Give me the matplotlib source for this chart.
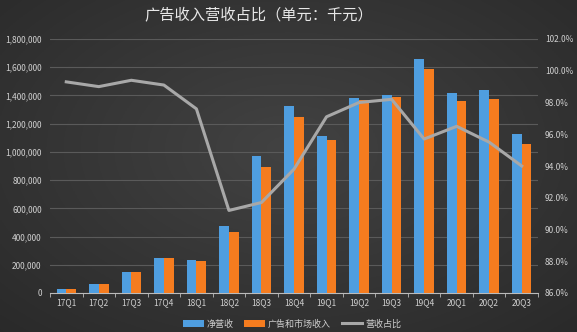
import numpy as np
import matplotlib
matplotlib.use("Agg")
import matplotlib.pyplot as plt
from matplotlib.ticker import FuncFormatter

plt.rcParams['font.family'] = ['Noto Sans CJK SC', 'DejaVu Sans']

# 数据（千元）
quarters = ['17Q1', '17Q2', '17Q3', '17Q4', '18Q1', '18Q2', '18Q3', '18Q4',
            '19Q1', '19Q2', '19Q3', '19Q4', '20Q1', '20Q2', '20Q3']
net_revenue = [28000, 64000, 150000, 250000, 235000, 475000, 972000, 1326000,
               1113000, 1385000, 1404000, 1660000, 1416000, 1440000, 1128000]
ad_revenue = [28000, 64000, 150000, 245000, 228000, 432000, 896000, 1246000,
              1085000, 1370000, 1388000, 1589000, 1364000, 1378000, 1057000]
ratio = [99.3, 99.0, 99.4, 99.1, 97.6, 91.2, 91.7, 93.8,
         97.1, 98.0, 98.2, 95.7, 96.5, 95.5, 94.0]

W, H = 577, 332
fig = plt.figure(figsize=(W / 100, H / 100), dpi=100)

# 背景渐变
bg = fig.add_axes([0, 0, 1, 1], zorder=-10)
yy, xx = np.mgrid[0:1:200j, 0:1:300j]
r = np.sqrt(((xx - 0.5) / 0.75) ** 2 + ((yy - 0.45) / 0.8) ** 2)
shade = 0.26 - 0.1 * r
bg.imshow(np.dstack([shade, shade, shade]).clip(0, 1), aspect='auto', extent=[0, 1, 0, 1])
bg.axis('off')

ax = fig.add_axes([50 / W, 1 - 293 / H, 488 / W, 254 / H])
ax.set_facecolor('none')
x = np.arange(len(quarters))
bw = 0.3
ax.bar(x - bw / 2, net_revenue, bw, color='#4f9ee0', label='净营收', zorder=3)
ax.bar(x + bw / 2, ad_revenue, bw, color='#f57c1f', label='广告和市场收入', zorder=3)
ax.set_xlim(-0.5, len(quarters) - 0.5)
ax.set_ylim(0, 1800000)
ax.set_yticks(np.arange(0, 1800001, 200000))
ax.yaxis.set_major_formatter(FuncFormatter(lambda v, p: f'{int(v):,}'))
ax.grid(axis='y', color='#5a5a5a', linewidth=0.8, zorder=0)
ax.set_xticks(x)
ax.set_xticklabels(quarters)
ax.set_xticks(np.arange(-0.5, len(quarters)), minor=True)
ax.tick_params(axis='x', which='major', length=0, colors='#d0d0d0', labelsize=6, pad=4)
ax.tick_params(axis='x', which='minor', length=3, color='#bbbbbb')
ax.tick_params(axis='y', length=0, colors='#d0d0d0', labelsize=6, pad=6)
for s in ['top', 'right', 'left']:
    ax.spines[s].set_visible(False)
ax.spines['bottom'].set_color('#bbbbbb')

ax2 = ax.twinx()
ax2.plot(x, ratio, color='#a8a8a8', linewidth=2.2, label='营收占比', zorder=4)
ax2.set_ylim(86, 102)
ax2.set_yticks(np.arange(86, 102.1, 2))
ax2.yaxis.set_major_formatter(FuncFormatter(lambda v, p: f'{v:.1f}%'))
ax2.tick_params(axis='y', length=0, colors='#d0d0d0', labelsize=6, pad=5)
for s in ['top', 'right', 'left', 'bottom']:
    ax2.spines[s].set_visible(False)

fig.text(259 / W, 1 - 16 / H, '广告收入营收占比（单元：千元）', ha='center', va='center',
         color='#e8e8e8', fontsize=11)

h1, l1 = ax.get_legend_handles_labels()
h2, l2 = ax2.get_legend_handles_labels()
fig.legend(h1 + h2, l1 + l2, loc='center', bbox_to_anchor=(292 / W, 1 - 324 / H), ncol=3,
           frameon=False, fontsize=6.5, labelcolor='#d0d0d0', handlelength=2.3,
           handleheight=0.8, columnspacing=1.2, handletextpad=0.3)

fig.savefig('out.png', dpi=100)
